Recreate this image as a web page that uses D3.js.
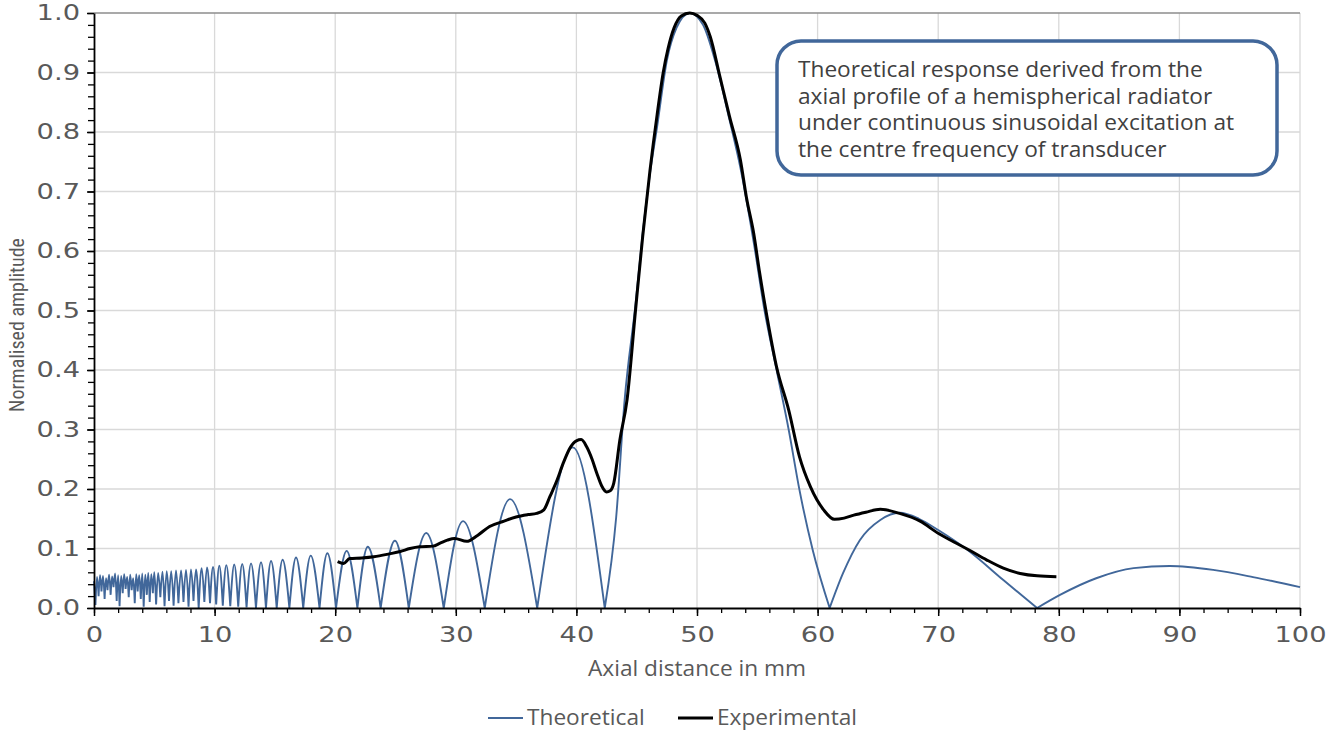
<!DOCTYPE html>
<html>
<head>
<meta charset="utf-8">
<script src="https://cdn.jsdelivr.net/npm/d3@7"></script>
<style>
  body { margin: 0; background: #fff; }
  text { font-family: "Open Sans", sans-serif; }
</style>
</head>
<body>
<svg id="chart" width="1335" height="734"></svg>
<script>
// axis ticks
var xTicks = [0, 10, 20, 30, 40, 50, 60, 70, 80, 90, 100];
var yTicks = [0, 0.1, 0.2, 0.3, 0.4, 0.5, 0.6, 0.7, 0.8, 0.9, 1.0];

var seriesNames = ['Theoretical', 'Experimental'];

// theoretical axial response (minima and peaks)
var theoX = [0.0, 0.12, 0.25, 0.38, 0.5, 0.62, 0.75, 0.88, 1.0, 1.12, 1.25, 1.38, 1.5, 1.62, 1.75, 1.88,
  2.0, 2.12, 2.25, 2.38, 2.5, 2.62, 2.75, 2.88, 3.0, 3.12, 3.25, 3.38, 3.5, 3.62, 3.75, 3.88,
  4.0, 4.12, 4.25, 4.38, 4.5, 4.62, 4.75, 4.88, 5.0, 5.15, 5.32, 5.5, 5.68, 5.85, 6.03, 6.22,
  6.4, 6.6, 6.8, 7.0, 7.22, 7.42, 7.63, 7.84, 8.04, 8.25, 8.46, 8.68, 8.93, 9.15, 9.37, 9.62,
  9.87, 10.13, 10.39, 10.68, 10.97, 11.3, 11.63, 11.96, 12.29, 12.65, 13.02, 13.43, 13.85, 14.26,
  14.68, 15.15, 15.64, 16.2, 16.75, 17.35, 17.97, 18.7, 19.35, 20.07, 20.95, 21.84, 22.7, 23.77,
  24.95, 26.1, 27.55, 29.0, 30.6, 32.4, 34.5, 36.75, 39.7, 42.35,
  43.3, 44.0, 44.9, 45.5, 46.1, 46.7, 47.5, 48.3, 49.4, 50.5, 51.5, 52.7, 53.6, 54.7, 55.6,
  56.6, 57.6, 58.5, 59.6, 61.0,
  62.1, 63.5, 65.2, 66.8, 68.4, 70.0, 72.6, 75.4, 78.2,
  80.1, 83.1, 86.2, 89.2, 92.8, 96.1, 100];
var theoY = [0.045, 0.005, 0.052, 0.020, 0.055, 0.028, 0.054, 0.015, 0.050, 0.030, 0.056, 0.022, 0.053, 0.035, 0.058, 0.012,
  0.055, 0.003, 0.054, 0.025, 0.057, 0.032, 0.052, 0.018, 0.056, 0.030, 0.050, 0.008, 0.057, 0.028, 0.055, 0.015,
  0.058, 0.002, 0.056, 0.022, 0.059, 0.010, 0.057, 0.025, 0.060, 0.006, 0.059, 0.018, 0.061, 0.003, 0.062, 0.012,
  0.062, 0.004, 0.063, 0.008, 0.063, 0.010, 0.064, 0.002, 0.065, 0.012, 0.065, 0.000, 0.067, 0.010, 0.068, 0.008,
  0.069, 0.006, 0.071, 0.004, 0.072, 0.003, 0.073, 0.002, 0.074, 0.001, 0.075, 0.000, 0.077, 0.000,
  0.079, 0.000, 0.081, 0.000, 0.085, 0.000, 0.088, 0.000, 0.092, 0.000, 0.096, 0.000, 0.103, 0.000,
  0.113, 0.000, 0.126, 0.000, 0.146, 0.000, 0.183, 0.000, 0.270, 0.000,
  0.153, 0.350, 0.510, 0.630, 0.730, 0.810, 0.920, 0.975, 1.000, 0.980, 0.920, 0.820, 0.740, 0.615, 0.500,
  0.400, 0.300, 0.198, 0.097, 0.000,
  0.058, 0.114, 0.148, 0.160, 0.150, 0.131, 0.095, 0.047, 0.000,
  0.022, 0.050, 0.067, 0.0706, 0.064, 0.052, 0.035];

// experimental measurement
var expX = [20.2, 20.7, 21.2, 22.2, 23.2, 24.5, 25.4, 26.2, 27.0, 28.1, 28.7, 29.3, 29.9, 30.9, 31.8,
  32.8, 34.0, 35.0, 36.0, 36.7, 37.3, 37.8, 38.4, 38.9, 39.5, 40.0, 40.4, 40.85, 41.3, 41.7, 42.1,
  42.5, 42.8, 43.1, 43.6, 44.2, 44.9, 45.5, 46.1, 46.7, 47.2, 47.6, 48.1, 48.7, 49.4,
  50.0, 50.65, 51.1, 51.9, 52.7, 53.6, 54.1, 54.7, 55.2, 55.8, 56.6, 57.6, 58.5, 59.4, 60.5, 61.4,
  62.2, 63.0, 64.0, 65.2, 66.8, 68.5, 70.0, 71.3, 72.6, 74.0, 75.4, 76.8, 78.2, 79.8];
var expY = [0.078, 0.075, 0.083, 0.084, 0.086, 0.091, 0.095, 0.100, 0.103, 0.104, 0.109, 0.114, 0.117, 0.112, 0.122,
  0.137, 0.146, 0.153, 0.157, 0.159, 0.165, 0.187, 0.215, 0.243, 0.270, 0.281, 0.283, 0.271, 0.250, 0.226, 0.205,
  0.195, 0.197, 0.210, 0.282, 0.350, 0.500, 0.625, 0.735, 0.830, 0.900, 0.940, 0.975, 0.995, 1.000,
  0.996, 0.983, 0.960, 0.893, 0.826, 0.753, 0.690, 0.630, 0.5625, 0.490, 0.405, 0.333, 0.254, 0.204, 0.165, 0.149,
  0.151, 0.156, 0.161, 0.166, 0.159, 0.146, 0.1255, 0.111, 0.097, 0.081, 0.067, 0.058, 0.054, 0.0527];

var noteLines = ['Theoretical response derived from the',
  'axial profile of a hemispherical radiator',
  'under continuous sinusoidal excitation at',
  'the centre frequency of transducer'];

var svg = d3.select('#chart');

var x = d3.scaleLinear().domain([0, 100]).range([94, 1300]);
var y = d3.scaleLinear().domain([0, 1]).range([608, 13]);

// grid
svg.append('g')
  .selectAll('line')
  .data(xTicks.slice(1))
  .enter().append('line')
    .attr('x1', d => x(d)).attr('x2', d => x(d))
    .attr('y1', y(0)).attr('y2', y(1))
    .attr('stroke', '#d9d9d9').attr('stroke-width', 1.3);

svg.append('g')
  .selectAll('line')
  .data(yTicks.slice(1))
  .enter().append('line')
    .attr('x1', x(0)).attr('x2', x(100))
    .attr('y1', d => y(d)).attr('y2', d => y(d))
    .attr('stroke', d => d === 1 ? '#8c8c8c' : '#d9d9d9').attr('stroke-width', 1.3);

// theoretical: cut into lobes at each minimum so the cusps stay sharp
var theo = theoX.map((v, i) => [v, theoY[i]]);
var lobes = [];
var cur = [theo[0]];
for (var i = 1; i < theo.length; i++) {
  cur.push(theo[i]);
  var isMin = i < theo.length - 1 && theo[i][1] <= theo[i - 1][1] && theo[i][1] <= theo[i + 1][1];
  if (isMin) {
    lobes.push(cur);
    cur = [theo[i]];
  }
}
if (cur.length > 1) lobes.push(cur);

var lineGen = d3.line()
  .x(d => x(d[0]))
  .y(d => y(d[1]))
  .curve(d3.curveMonotoneX);

svg.append('path')
  .attr('d', lobes.map(l => lineGen(l)).join(''))
  .attr('fill', 'none')
  .attr('stroke', '#41679a')
  .attr('stroke-width', 1.9)
  .attr('stroke-linejoin', 'round');

svg.append('path')
  .datum(expX.map((v, i) => [v, expY[i]]))
  .attr('d', lineGen)
  .attr('fill', 'none')
  .attr('stroke', '#000')
  .attr('stroke-width', 3)
  .attr('stroke-linejoin', 'round');

// axes
var xMinor = d3.range(0, 101, 2);
var yMinor = d3.range(0, 51).map(d => d / 50);
var tickStretch = 1.3;

svg.append('g')
  .attr('transform', 'translate(0,' + y(0) + ')')
  .call(d3.axisBottom(x).tickValues(xMinor).tickSize(5).tickFormat(''))
  .call(g => g.select('.domain').remove())
  .selectAll('line').attr('stroke', '#000').attr('stroke-width', 1.3);

var xAxis = svg.append('g')
  .attr('transform', 'translate(0,' + y(0) + ')')
  .call(d3.axisBottom(x).tickValues(xTicks).tickSize(8).tickSizeOuter(0).tickPadding(11));
xAxis.select('.domain').attr('stroke', '#000').attr('stroke-width', 1.8);
xAxis.selectAll('line').attr('stroke', '#000').attr('stroke-width', 1.5);
xAxis.selectAll('text')
  .style('font-family', '"DejaVu Sans", sans-serif')
  .style('font-size', '21px')
  .attr('fill', '#595959')
  .attr('transform', 'scale(' + tickStretch + ',1)');

svg.append('g')
  .attr('transform', 'translate(' + x(0) + ',0)')
  .call(d3.axisLeft(y).tickValues(yMinor).tickSize(6).tickFormat(''))
  .call(g => g.select('.domain').remove())
  .selectAll('line').attr('stroke', '#000').attr('stroke-width', 1.3);

var yAxis = svg.append('g')
  .attr('transform', 'translate(' + x(0) + ',0)')
  .call(d3.axisLeft(y).tickValues(yTicks).tickSize(7).tickSizeOuter(0).tickFormat(d3.format('.1f')));
yAxis.select('.domain').attr('stroke', '#000').attr('stroke-width', 1.8);
yAxis.selectAll('line').attr('stroke', '#000').attr('stroke-width', 1.5);
yAxis.selectAll('text')
  .style('font-family', '"DejaVu Sans", sans-serif')
  .style('font-size', '21px')
  .attr('fill', '#595959')
  .attr('x', -14 / tickStretch)
  .attr('transform', 'scale(' + tickStretch + ',1)');

// axis titles
var textStretch = 1.08;
svg.append('text')
  .attr('transform', 'translate(697,676) scale(' + textStretch + ',1)')
  .attr('text-anchor', 'middle')
  .style('font-size', '21px')
  .attr('fill', '#595959')
  .text('Axial distance in mm');

svg.append('text')
  .attr('transform', 'translate(24,325) rotate(-90)')
  .attr('text-anchor', 'middle')
  .style('font-family', '"Liberation Sans Narrow", "Roboto Condensed", Roboto, sans-serif')
  .style('font-size', '20px')
  .attr('fill', '#595959')
  .text('Normalised amplitude');

// legend
var legend = svg.append('g');
var legendPos = [[488, 527], [678, 717]];
seriesNames.forEach(function (name, i) {
  legend.append('line')
    .attr('x1', legendPos[i][0]).attr('x2', legendPos[i][0] + 35)
    .attr('y1', 718).attr('y2', 718)
    .attr('stroke', i === 0 ? '#41679a' : '#000')
    .attr('stroke-width', i === 0 ? 1.9 : 3);
  legend.append('text')
    .attr('transform', 'translate(' + legendPos[i][1] + ',725) scale(' + textStretch + ',1)')
    .style('font-size', '21px')
    .attr('fill', '#595959')
    .text(name);
});

// annotation box
svg.append('rect')
  .attr('x', 777).attr('y', 41)
  .attr('width', 500).attr('height', 134)
  .attr('rx', 24).attr('ry', 24)
  .attr('fill', '#fff')
  .attr('stroke', '#41679a')
  .attr('stroke-width', 3.5);

svg.append('g')
  .selectAll('text')
  .data(noteLines)
  .enter().append('text')
    .attr('transform', (d, i) => 'translate(798,' + (77 + i * 26.5) + ') scale(' + textStretch + ',1)')
    .style('font-size', '21px')
    .attr('fill', '#404040')
    .text(d => d);
</script>
</body>
</html>
